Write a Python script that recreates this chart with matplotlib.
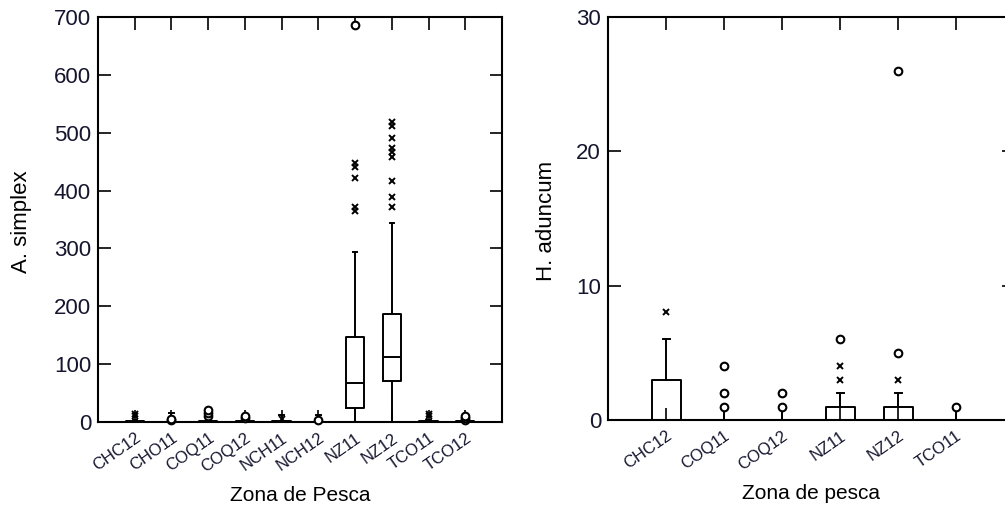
import matplotlib
matplotlib.use("Agg")
import matplotlib.pyplot as plt

plt.rcParams['font.family'] = ['Liberation Sans', 'DejaVu Sans']

# A. simplex por zona de pesca
cats_a = ['CHC12', 'CHO11', 'COQ11', 'COQ12', 'NCH11', 'NCH12', 'NZ11', 'NZ12', 'TCO11', 'TCO12']
q1_a = [0, 0, 0, 0, 0, 0, 24, 71, 0, 0]
med_a = [0, 0, 0, 0, 0, 0, 67, 112, 0, 0]
q3_a = [2, 0, 2, 2, 1, 0, 147, 187, 2, 1]
lo_a = [0, 0, 0, 0, 0, 0, 0, 0, 0, 0]
hi_a = [4, 15, 4, 4, 12, 12, 294, 344, 4, 2]
star_a = [[10, 13], [], [], [], [5], [], [365, 372, 421, 440, 447],
          [372, 389, 416, 458, 466, 473, 490, 511, 518], [10, 13], []]
circ_a = [[], [3, 5], [10, 15, 20], [7, 10], [], [3], [686], [], [], [4, 7, 10]]

# H. aduncum por zona de pesca
cats_h = ['CHC12', 'COQ11', 'COQ12', 'NZ11', 'NZ12', 'TCO11']
q1_h = [0, 0, 0, 0, 0, 0]
med_h = [0, 0, 0, 0, 0, 0]
q3_h = [3, 0, 0, 1, 1, 0]
lo_h = [0, 0, 0, 0, 0, 0]
hi_h = [6, 1, 1, 2, 2, 1]
star_h = [[8], [], [], [3, 4], [3], []]
circ_h = [[], [1, 2, 4], [1, 2], [6], [5, 26], [1]]

TXT = '#15152e'
LW = 1.4


def draw_panel(ax, cats, q1, med, q3, lo, hi, stars, circles, ymax, ystep,
               xlabel, ylabel, ylab_x):
    stats = []
    for i in range(len(cats)):
        stats.append({'q1': q1[i], 'med': med[i], 'q3': q3[i],
                      'whislo': lo[i], 'whishi': hi[i], 'fliers': [], 'label': cats[i]})
    pos = list(range(1, len(cats) + 1))
    ax.bxp(stats, positions=pos, widths=0.5, showfliers=False, capwidths=0.12,
           boxprops=dict(color='black', lw=LW),
           medianprops=dict(color='black', lw=LW),
           whiskerprops=dict(color='black', lw=LW),
           capprops=dict(color='black', lw=LW))
    for i in range(len(cats)):
        if stars[i]:
            ax.plot([pos[i]] * len(stars[i]), stars[i], ls='none', marker='x',
                    ms=5, mew=1.4, color='black', clip_on=False, zorder=4)
        if circles[i]:
            ax.plot([pos[i]] * len(circles[i]), circles[i], ls='none', marker='o',
                    ms=5.5, mew=1.5, mfc='white', mec='black', clip_on=False, zorder=4)
    ax.set_xlim(0, len(cats) + 1)
    ax.set_ylim(0, ymax)
    ax.set_yticks(range(0, ymax + 1, ystep))
    ax.set_xticks(pos)
    ax.set_xticklabels(cats, rotation=35, ha='right', rotation_mode='anchor',
                       fontsize=12, color=TXT)
    ax.tick_params(axis='both', direction='in', length=9, width=1.2,
                   top=True, right=True, labeltop=False, labelright=False)
    ax.tick_params(axis='y', labelsize=16, labelcolor=TXT, pad=5)
    ax.tick_params(axis='x', pad=6)
    for s in ax.spines.values():
        s.set_linewidth(1.5)
    ax.set_xlabel(xlabel, fontsize=15, color='black', labelpad=8)
    ax.set_ylabel(ylabel, fontsize=16, color='black')
    ax.yaxis.set_label_coords(ylab_x, 0.494)


fig = plt.figure(figsize=(10.05, 5.14), dpi=100)
ax1 = fig.add_axes([0.0975, 0.179, 0.402, 0.788])
ax2 = fig.add_axes([0.605, 0.183, 0.404, 0.784])

draw_panel(ax1, cats_a, q1_a, med_a, q3_a, lo_a, hi_a, star_a, circ_a,
           700, 100, 'Zona de Pesca', 'A. simplex', -0.163)
draw_panel(ax2, cats_h, q1_h, med_h, q3_h, lo_h, hi_h, star_h, circ_h,
           30, 10, 'Zona de pesca', 'H. aduncum', -0.126)

fig.savefig('out.png', dpi=100)
